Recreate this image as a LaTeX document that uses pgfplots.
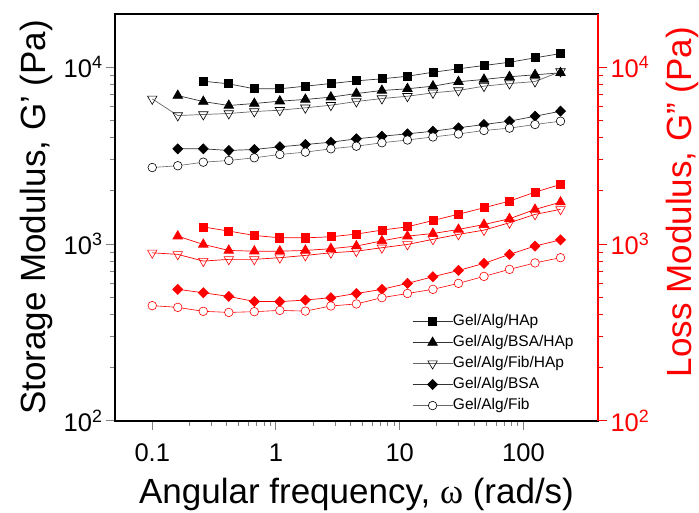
\documentclass[border=0pt]{standalone}
\usepackage{fontspec}
\setmainfont{Liberation Sans}
\newfontfamily\seriffont{Liberation Serif}
\usepackage{pgfplots}
\usepackage{pgfplotstable}
\pgfplotsset{compat=1.18}

\pgfplotstableread{
x y
0.2585 8337
0.4155 8056
0.6681 7553
1.074 7553
1.727 7816
2.776 8087
4.463 8378
7.176 8600
11.54 8896
18.55 9370
29.82 9794
47.94 10230
77.07 10670
123.9 11300
199.2 11950
}\gHAp
\pgfplotstableread{
x y
0.1608 6918
0.2585 6397
0.4155 6077
0.6681 6237
1.074 6430
1.727 6574
2.776 6774
4.463 7101
7.176 7387
11.54 7553
18.55 7816
29.82 8277
47.94 8531
77.07 8834
123.9 9065
199.2 9295
}\gBSAHAp
\pgfplotstableread{
x y
0.1 6627
0.1608 5333
0.2585 5404
0.4155 5475
0.6681 5620
1.074 5714
1.727 5899
2.776 6099
4.463 6400
7.176 6653
11.54 6855
18.55 7163
29.82 7387
47.94 7816
77.07 8087
123.9 8300
199.2 9456
}\gFibHAp
\pgfplotstableread{
x y
0.1608 3459
0.2585 3459
0.4155 3384
0.6681 3428
1.074 3549
1.727 3657
2.776 3768
4.463 3938
7.176 4073
11.54 4203
18.55 4348
29.82 4545
47.94 4745
77.07 4955
123.9 5284
199.2 5641
}\gBSA
\pgfplotstableread{
x y
0.1 2710
0.1608 2774
0.2585 2906
0.4155 2970
0.6681 3077
1.074 3212
1.727 3311
2.776 3459
4.463 3578
7.176 3741
11.54 3880
18.55 4035
29.82 4195
47.94 4389
77.07 4526
123.9 4745
199.2 4955
}\gFib
\pgfplotstableread{
x y
0.2585 1250
0.4155 1185
0.6681 1120
1.074 1085
1.727 1085
2.776 1100
4.463 1140
7.176 1200
11.54 1253
18.55 1360
29.82 1476
47.94 1606
77.07 1750
123.9 1967
199.2 2175
}\lHAp
\pgfplotstableread{
x y
0.1608 1109
0.2585 996
0.4155 921
0.6681 912
1.074 912
1.727 921
2.776 942
4.463 975
7.176 1043
11.54 1109
18.55 1148
29.82 1210
47.94 1291
77.07 1391
123.9 1570
199.2 1727
}\lBSAHAp
\pgfplotstableread{
x y
0.1 893
0.1608 875
0.2585 802
0.4155 820
0.6681 820
1.074 838
1.727 863
2.776 893
4.463 912
7.176 954
11.54 996
18.55 1064
29.82 1135
47.94 1200
77.07 1321
123.9 1472
199.2 1573
}\lFibHAp
\pgfplotstableread{
x y
0.1608 555
0.2585 531
0.4155 506
0.6681 474
1.074 473
1.727 483
2.776 498
4.463 526
7.176 555
11.54 600
18.55 654
29.82 710
47.94 778
77.07 875
123.9 975
199.2 1057
}\lBSA
\pgfplotstableread{
x y
0.1 449
0.1608 439
0.2585 417
0.4155 411
0.6681 415
1.074 422
1.727 418
2.776 447
4.463 459
7.176 498
11.54 526
18.55 555
29.82 600
47.94 657
77.07 720
123.9 783
199.2 838
}\lFib

\begin{document}
\begin{tikzpicture}
\begin{axis}[name=main,
  scale only axis, width=483pt, height=407pt,
  xmode=log, ymode=log, xmin=0.05, xmax=400, ymin=100, ymax=20000,
  tick align=outside, major tick length=9pt, minor tick length=5pt,
  ytick={100,1000,10000},
  yticklabels={10\textsuperscript{2},10\textsuperscript{3},10\textsuperscript{4}},
  yticklabel style={font=\fontsize{25.5}{28}\selectfont},
  axis line style={line width=1.3pt},
  every tick/.append style={line width=1pt},
  xtick pos=bottom, ytick pos=left,
  xtick={0.1,1,10,100}, xticklabels={0.1,1,10,100},
  xticklabel style={font=\fontsize{25.5}{28}\selectfont, yshift=-10pt},
  xlabel={Angular frequency, {\seriffont ω} (rad/s)},
  xlabel style={font=\fontsize{35}{40}\selectfont, at={(axis description cs:0.5,-0.202)}, anchor=base, inner sep=0pt},
  ylabel={Storage Modulus, G' (Pa)},
  ylabel style={font=\fontsize{35}{40}\selectfont, at={(axis description cs:-0.197,0.5)}, anchor=north, inner sep=0pt},
  legend style={draw=none, fill=none, inner sep=0pt, at={(0.615,0.262)}, anchor=north west,
    font=\fontsize{15.5}{17}\selectfont, row sep=7pt,
    nodes={inner sep=0pt, text height=11pt, text depth=3pt}},
  legend cell align=left,
  legend image code/.code={\draw[mark repeat=2, mark phase=2] plot coordinates {(0pt,0pt) (20pt,0pt) (40pt,0pt)};},
]
\addplot[black!80, line width=0.7pt, mark=square*, mark size=4pt, mark options={black}] table {\gHAp};
\addlegendentry{Gel/Alg/HAp}
\addplot[black!80, line width=0.7pt, mark=triangle*, mark size=5.5pt, mark options={black}] table {\gBSAHAp};
\addlegendentry{Gel/Alg/BSA/HAp}
\addplot[black!60, line width=0.7pt, mark=triangle, mark size=5.5pt, mark options={draw=black, fill=white, rotate=180, line width=0.6pt}] table {\gFibHAp};
\addlegendentry{Gel/Alg/Fib/HAp}
\addplot[black!80, line width=0.7pt, mark=diamond*, mark size=5pt, mark options={black, xscale=1.33}] table {\gBSA};
\addlegendentry{Gel/Alg/BSA}
\addplot[black!60, line width=0.6pt, mark=*, mark size=4.3pt, mark options={draw=black, fill=white, line width=0.6pt}] table {\gFib};
\addlegendentry{Gel/Alg/Fib}
\addplot[red, line width=0.7pt, mark=square*, mark size=4pt, forget plot] table {\lHAp};
\addplot[red, line width=0.7pt, mark=triangle*, mark size=5.5pt, forget plot] table {\lBSAHAp};
\addplot[red, line width=0.7pt, mark=triangle, mark size=5.5pt, forget plot, mark options={fill=white, rotate=180, line width=0.6pt}] table {\lFibHAp};
\addplot[red, line width=0.7pt, mark=diamond*, mark size=5pt, forget plot, mark options={xscale=1.33}] table {\lBSA};
\addplot[red, line width=0.6pt, mark=*, mark size=4.3pt, forget plot, mark options={fill=white, line width=0.6pt}] table {\lFib};
\end{axis}
\begin{axis}[at={(main.south west)}, anchor=south west,
  scale only axis, width=483pt, height=407pt,
  xmode=log, ymode=log, xmin=0.05, xmax=400, ymin=100, ymax=20000,
  tick align=outside, major tick length=9pt, minor tick length=5pt,
  ytick={100,1000,10000},
  yticklabels={10\textsuperscript{2},10\textsuperscript{3},10\textsuperscript{4}},
  yticklabel style={font=\fontsize{25.5}{28}\selectfont, red},
  axis x line=none, axis y line*=right,
  y axis line style={red, line width=1.3pt},
  every y tick/.append style={red, line width=1pt},
  ylabel={Loss Modulus, G'' (Pa)},
  ylabel style={red, font=\fontsize{35}{40}\selectfont, at={(axis description cs:1.14,0.538)}, anchor=north, inner sep=0pt},
]
\addplot[draw=none, forget plot] coordinates {(1,1000)};
\end{axis}
\pgfresetboundingbox
\path[use as bounding box] ([shift={(-115pt,-91pt)}]main.south west) rectangle ([shift={(101pt,14pt)}]main.north east);
\end{tikzpicture}
\end{document}
